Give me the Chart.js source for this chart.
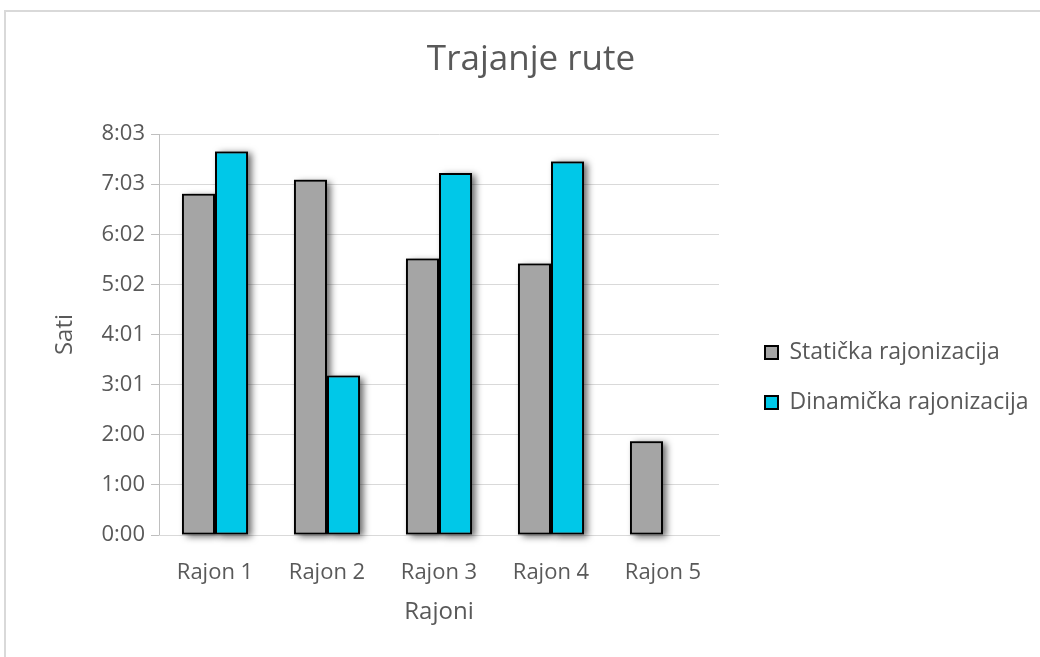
<!DOCTYPE html>
<html>
<head>
<meta charset="utf-8">
<script src="https://cdn.jsdelivr.net/npm/chart.js@4.4.1/dist/chart.umd.min.js"></script>
<style>
    body { margin: 0; background: #fff; }
    #okvir { position: absolute; left: 4px; top: 10px; width: 1040px; height: 660px; border: 2px solid #d9d9d9; box-sizing: border-box; }
    #wrap { position: absolute; left: 0; top: 0; width: 1040px; height: 657px; }
</style>
</head>
<body>
<div id="okvir"></div>
<div id="wrap"><canvas id="rutaChart" width="1040" height="657"></canvas></div>
<script>
// podaci (trajanje u minutama)
const rajoni = ["Rajon 1", "Rajon 2", "Rajon 3", "Rajon 4", "Rajon 5"];
const staticka = [411, 428, 333, 327, 113];
const dinamicka = [462, 192, 436, 450, null];
const yOznake = ["0:00", "1:00", "2:00", "3:01", "4:01", "5:02", "6:02", "7:03", "8:03"];
const yKorak = 60.375;

const font = "'Open Sans', 'Noto Sans', sans-serif";
const siva = "#595959";

// sjena ispod stupaca (crta se prije samih stupaca)
const sjena = {
    id: "sjena",
    beforeDatasetsDraw(chart) {
        const c = chart.ctx;
        c.save();
        c.shadowColor = "rgba(0,0,0,0.6)";
        c.shadowBlur = 7;
        c.shadowOffsetX = 4;
        c.shadowOffsetY = 2;
        c.fillStyle = "#808080";
        chart.data.datasets.forEach((ds, i) => {
            chart.getDatasetMeta(i).data.forEach((bar, j) => {
                if (ds.data[j] == null) return;
                const p = bar.getProps(["x", "y", "base", "width"], true);
                c.fillRect(p.x - p.width / 2, Math.min(p.y, p.base), p.width, Math.abs(p.base - p.y));
            });
        });
        c.restore();
    },
};

let ctx = document.getElementById("rutaChart").getContext("2d");
var rutaChart = new Chart(ctx, {
    type: "bar",
    data: {
        labels: rajoni,
        datasets: [{
            label: "Statička rajonizacija",
            data: staticka,
            backgroundColor: "#a5a5a5",
            borderColor: "#000000",
            borderWidth: 2,
            borderSkipped: false,
        }, {
            label: "Dinamička rajonizacija",
            data: dinamicka,
            backgroundColor: "#00c8e8",
            borderColor: "#000000",
            borderWidth: 2,
            borderSkipped: false,
        }],
    },
    options: {
        responsive: false,
        animation: false,
        datasets: {
            bar: {
                barPercentage: 1,
                categoryPercentage: 0.59,
            },
        },
        layout: {
            padding: { left: 34, right: 12, top: 10, bottom: 0 },
        },
        scales: {
            y: {
                min: 0,
                max: 8 * yKorak,
                afterFit: s => { s.width = 125; },
                ticks: {
                    stepSize: yKorak,
                    color: siva,
                    font: { family: font, size: 22 },
                    padding: 6,
                    callback: (v, i) => yOznake[i],
                },
                grid: {
                    color: "#d9d9d9",
                    tickColor: "#bfbfbf",
                    tickLength: 8,
                },
                border: { display: true, color: "#bfbfbf" },
                title: {
                    display: true,
                    text: "Sati",
                    color: siva,
                    font: { family: font, size: 24 },
                    padding: { top: 17, bottom: 0 },
                },
            },
            // prazan prostor između grafa i legende
            razmak: {
                position: "right",
                afterFit: s => { s.width = 19; },
                grid: { display: false },
                border: { display: false },
                ticks: { display: false },
            },
            x: {
                afterFit: s => { s.height = 122; },
                grid: { display: false },
                border: { display: true, color: "#d9d9d9" },
                ticks: {
                    color: siva,
                    font: { family: font, size: 22 },
                    padding: 17,
                },
                title: {
                    display: true,
                    text: "Rajoni",
                    color: siva,
                    font: { family: font, size: 24 },
                    padding: { top: 0, bottom: 30 },
                },
            },
        },
        plugins: {
            title: {
                display: true,
                text: "Trajanje rute",
                color: siva,
                font: { family: font, size: 35, weight: "normal" },
                padding: { top: 29, bottom: 53 },
            },
            legend: {
                position: "right",
                maxWidth: 290,
                title: {
                    display: true,
                    text: " ",
                    font: { size: 10 },
                    padding: { top: 76, bottom: 0 },
                },
                labels: {
                    color: siva,
                    font: { family: font, size: 23 },
                    boxWidth: 13,
                    boxHeight: 13,
                    padding: 27,
                },
            },
            tooltip: { enabled: false },
        },
    },
    plugins: [sjena],
});
</script>
</body>
</html>
